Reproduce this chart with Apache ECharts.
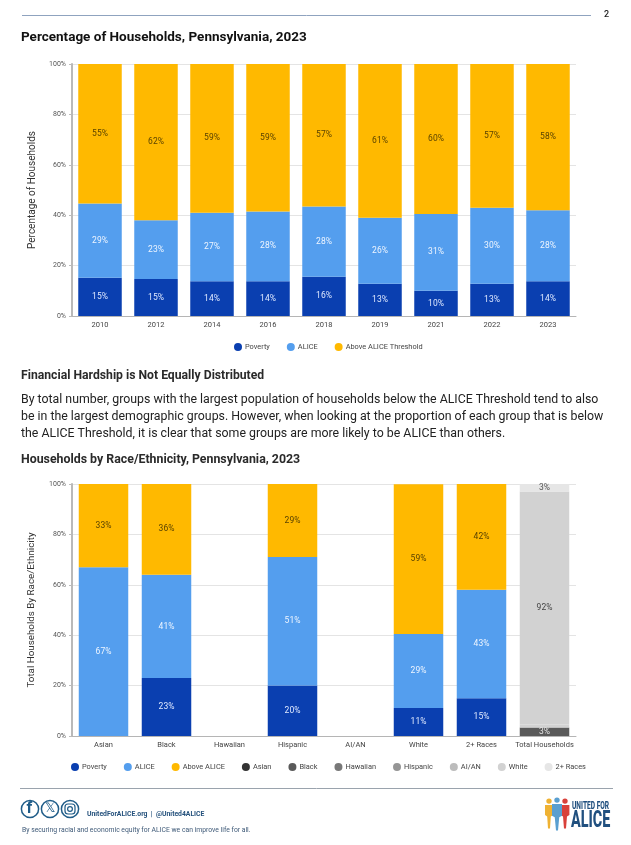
<!DOCTYPE html>
<html><head><meta charset="utf-8">
<style>html,body{margin:0;padding:0;background:#fff}#c{width:631px;height:845px}</style>
<script src="https://cdn.jsdelivr.net/npm/echarts@6/dist/echarts.min.js"></script>
</head><body><div id="c"></div>
<script>
const years = ['2010','2012','2014','2016','2018','2019','2021','2022','2023'];
const povertyByYear = [15.2,14.7,13.8,13.8,15.6,12.8,10,12.8,13.8];
const aliceByYear = [29.4,23.3,27.2,27.7,27.9,26.2,30.5,30.2,28.2];
const aboveByYear = [55.4,62,59,58.5,56.5,61,59.5,57,58];

const groups = ['Asian','Black','Hawaiian','Hispanic','AI/AN','White','2+ Races','Total Households'];
const povertyByGroup = [0,23,null,20,null,11.1,15,null];
const aliceByGroup = [67,41,null,51,null,29.4,43,null];
const aboveByGroup = [33,36,null,29,null,59.4,42,null];
const totalBlack = [null,null,null,null,null,null,null,3.4];
const totalAian = [null,null,null,null,null,null,null,1.2];
const totalWhite = [null,null,null,null,null,null,null,92.4];
const totalMulti = [null,null,null,null,null,null,null,3];
const pctTicks = [0,20,40,60,80,100];

const NAVY='#0a3fb0', BLUE='#549eee', GOLD='#ffb900', TXT='#444', FONT='Roboto';
const lbl = (color,size)=>({show:true,position:'inside',color,fontFamily:FONT,fontSize:size||8.5,
  formatter:p=>p.value>0?Math.round(p.value)+'%':''});
const barSeries=(name,data,color,lab,idx,stack,bw)=>({
  name,type:'bar',stack,data,barWidth:bw,xAxisIndex:idx,yAxisIndex:idx,
  itemStyle:{color},label:lab,emphasis:{disabled:true},silent:true});

const xAx=(idx,data)=>({gridIndex:idx,type:'category',data,
  axisLine:{lineStyle:{color:'#b5b5b5',width:1}},axisTick:{show:false},
  axisLabel:{color:TXT,fontFamily:FONT,fontSize:7.5,margin:5,interval:0}});
const yAx=(idx,name,size)=>({gridIndex:idx,type:'value',min:0,max:100,interval:20,
  name,nameLocation:'middle',nameGap:35,nameTextStyle:{color:'#333',fontFamily:FONT,fontSize:size},
  axisLine:{show:true,lineStyle:{color:'#b9b9b9',width:2}},axisTick:{show:true,length:3,lineStyle:{color:'#bbb'}},
  splitLine:{lineStyle:{color:'#e4e4e4',width:1}},
  axisLabel:{color:'#555',fontFamily:FONT,fontSize:7,margin:6,formatter:v=>pctTicks.includes(v)?v+'%':''}});
const legendOf=(left,top,data)=>({left,top,data,icon:'circle',itemWidth:8,itemHeight:8,itemGap:17,
  selectedMode:false,padding:0,textStyle:{color:TXT,fontFamily:FONT,fontSize:7.4,padding:[0,0,0,-2]}});

const text=(x,y,t,size,weight,color,extra)=>({type:'text',left:x,top:y,silent:true,
  style:Object.assign({text:t,font:`${weight} ${size}px ${FONT}`,fill:color},extra||{})});
const logoText=(x,y,t,size,sx)=>({type:'text',x,y,scaleX:sx,silent:true,
  style:{text:t,font:`800 ${size}px ${FONT}`,fill:'#21507f'}});
const hline=(x1,x2,y,color)=>({type:'line',shape:{x1,y1:y,x2,y2:y},style:{stroke:color,lineWidth:1},silent:true});
const person=(cx,top,h,w,color)=>[
  {type:'circle',shape:{cx,cy:top+2.6,r:2.7},style:{fill:color},silent:true},
  {type:'polygon',shape:{points:[[cx-w,top+6.5],[cx+w,top+6.5],[cx+w,top+h*0.55],[cx+w*0.45,top+h*0.6],[cx+1,top+h],[cx-1,top+h],[cx-w*0.45,top+h*0.6],[cx-w,top+h*0.55]]},style:{fill:color},silent:true}];
const ring=(cx,cy)=>({type:'circle',shape:{cx,cy,r:8.6},style:{fill:'#fff',stroke:'#1f5c88',lineWidth:1.5},silent:true});

const graphics=[
  hline(22,591,15.5,'#8fa3bf'),
  text(604,10,'2',9,'500','#222'),
  text(21,31,'Percentage of Households, Pennsylvania, 2023',13.5,'700','#111'),
  text(21,370,'Financial Hardship is Not Equally Distributed',12.2,'700','#2a2a2a'),
  text(21,394,'By total number, groups with the largest population of households below the ALICE Threshold tend to also',12.35,'400','#222'),
  text(21,411,'be in the largest demographic groups. However, when looking at the proportion of each group that is below',12.35,'400','#222'),
  text(21,428,'the ALICE Threshold, it is clear that some groups are more likely to be ALICE than others.',12.35,'400','#222'),
  text(21,454,'Households by Race/Ethnicity, Pennsylvania, 2023',12.35,'700','#2a2a2a'),
  hline(20,613,788.5,'#9aa3ad'),
  ring(30,809),ring(50,809),ring(70,809),
  text(26.5,801,'f',16,'700','#1f5c88'),
  text(44.5,802,'𝕏',13,'400','#1f5c88'),
  {type:'rect',shape:{x:65,y:804,width:10,height:10,r:3},style:{fill:'none',stroke:'#1f5c88',lineWidth:1.2},silent:true},
  {type:'circle',shape:{cx:70,cy:809,r:2.4},style:{fill:'none',stroke:'#1f5c88',lineWidth:1.2},silent:true},
  text(87,811,'UnitedForALICE.org  |  @United4ALICE',6.8,'700','#24517c'),
  text(22,827,'By securing racial and economic equity for ALICE we can improve life for all.',6.8,'400','#3f5a78'),
  ...person(549,798.5,30,4,'#efb233'),...person(565,798.5,30,4.4,'#d9413b'),...person(557,797.5,33,5,'#5a9fd0'),
  logoText(572,801,'UNITED FOR',11,0.6),
  logoText(571,809,'ALICE',24,0.6),
];

const chart=echarts.init(document.getElementById('c'),null,{renderer:'canvas'});
chart.setOption({
  animation:false,backgroundColor:'#fff',
  grid:[{left:72,top:64,width:504,height:252},{left:72,top:484,width:504,height:252}],
  legend:[legendOf(234,343,['Poverty','ALICE','Above ALICE Threshold']),
          legendOf(71,763,['Poverty','ALICE','Above ALICE','Asian','Black','Hawaiian','Hispanic',{name:'AI/AN',itemStyle:{color:'#bcbcbc'}},'White','2+ Races'])],
  xAxis:[xAx(0,years),xAx(1,groups)],
  yAxis:[yAx(0,'Percentage of Households',10),yAx(1,'Total Households By Race/Ethnicity',9.8)],
  series:[
    barSeries('Poverty',povertyByYear,NAVY,lbl('#dfe9ff'),0,'a',43.5),
    barSeries('ALICE',aliceByYear,BLUE,lbl('#eef5ff'),0,'a',43.5),
    barSeries('Above ALICE Threshold',aboveByYear,GOLD,lbl('#5a4300'),0,'a',43.5),
    barSeries('Poverty',povertyByGroup,NAVY,lbl('#dfe9ff'),1,'b',49.5),
    barSeries('ALICE',aliceByGroup,BLUE,lbl('#eef5ff'),1,'b',49.5),
    barSeries('Above ALICE',aboveByGroup,GOLD,lbl('#5a4300'),1,'b',49.5),
    barSeries('Asian',[],'#333',{show:false},1,'b',49.5),
    barSeries('Black',totalBlack,'#5a5a5a',lbl('#e6e6e6'),1,'b',49.5),
    barSeries('Hawaiian',[],'#787878',{show:false},1,'b',49.5),
    barSeries('Hispanic',[],'#959595',{show:false},1,'b',49.5),
    barSeries('AI/AN',totalAian,'#d2d2d2',{show:false},1,'b',49.5),
    barSeries('White',totalWhite,'#d2d2d2',lbl('#444'),1,'b',49.5),
    barSeries('2+ Races',totalMulti,'#e6e6e6',lbl('#555'),1,'b',49.5),
  ],
  graphic:{elements:graphics}
});
</script></body></html>
